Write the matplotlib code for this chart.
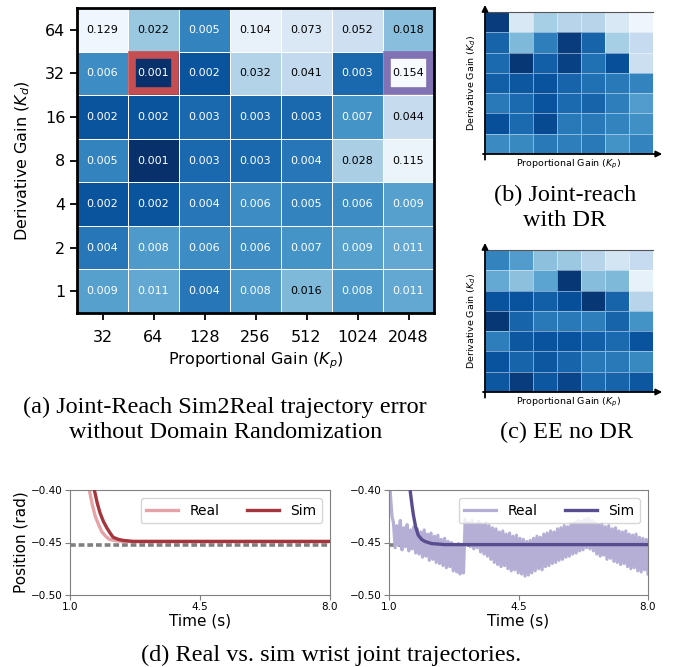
import numpy as np
import matplotlib
matplotlib.use("Agg")
import matplotlib.pyplot as plt
from matplotlib.colors import LogNorm
from matplotlib.patches import Rectangle

# (a) joint-reach sim2real error, rows Kd (top -> bottom), cols Kp
kp_labels = ["32", "64", "128", "256", "512", "1024", "2048"]
kd_labels = ["64", "32", "16", "8", "4", "2", "1"]
err = np.array([
    [0.129, 0.022, 0.005, 0.104, 0.073, 0.052, 0.018],
    [0.006, 0.001, 0.002, 0.032, 0.041, 0.003, 0.154],
    [0.002, 0.002, 0.003, 0.003, 0.003, 0.007, 0.044],
    [0.005, 0.001, 0.003, 0.003, 0.004, 0.028, 0.115],
    [0.002, 0.002, 0.004, 0.006, 0.005, 0.006, 0.009],
    [0.004, 0.008, 0.006, 0.006, 0.007, 0.009, 0.011],
    [0.009, 0.011, 0.004, 0.008, 0.016, 0.008, 0.011],
])

# (b) and (c): colour intensity only (no numbers printed)
dr_grid = np.array([
    [0.95, 0.15, 0.35, 0.30, 0.30, 0.15, 0.05],
    [0.80, 0.45, 0.70, 0.95, 0.80, 0.35, 0.25],
    [0.78, 0.97, 0.82, 0.93, 0.75, 0.88, 0.22],
    [0.82, 0.85, 0.87, 0.80, 0.75, 0.72, 0.68],
    [0.72, 0.78, 0.87, 0.78, 0.80, 0.70, 0.58],
    [0.88, 0.78, 0.90, 0.72, 0.72, 0.68, 0.63],
    [0.65, 0.66, 0.72, 0.70, 0.72, 0.62, 0.68],
])
ee_grid = np.array([
    [0.68, 0.58, 0.42, 0.38, 0.30, 0.18, 0.25],
    [0.52, 0.42, 0.55, 0.97, 0.43, 0.45, 0.08],
    [0.87, 0.87, 0.82, 0.88, 0.97, 0.80, 0.30],
    [0.97, 0.80, 0.72, 0.72, 0.70, 0.80, 0.62],
    [0.70, 0.85, 0.87, 0.87, 0.82, 0.78, 0.87],
    [0.87, 0.80, 0.85, 0.80, 0.72, 0.72, 0.66],
    [0.85, 0.95, 0.85, 0.92, 0.78, 0.80, 0.85],
])

# (d) wrist joint trajectories
target_pos = -0.4525
t_real_l = [1.42, 1.52, 1.60, 1.68, 1.77, 1.86, 1.96, 2.06, 2.20, 2.40, 8.0]
y_real_l = [-0.37, -0.40, -0.414, -0.425, -0.433, -0.440, -0.444, -0.447, -0.448, -0.449, -0.449]
t_sim_l = [1.55, 1.655, 1.73, 1.81, 1.90, 1.99, 2.08, 2.16, 2.30, 2.43, 2.70, 8.0]
y_sim_l = [-0.37, -0.40, -0.412, -0.422, -0.430, -0.436, -0.441, -0.445, -0.447, -0.448, -0.449, -0.449]

t_sim_r = [1.50, 1.57, 1.62, 1.66, 1.72, 1.79, 1.88, 1.97, 2.15, 2.50, 8.0]
y_sim_r = [-0.37, -0.40, -0.414, -0.424, -0.435, -0.443, -0.447, -0.449, -0.451, -0.452, -0.452]

real_r_start_t = [0.95, 1.03, 1.08]
real_r_start_y = [-0.37, -0.40, -0.425]
real_r_hi = [-0.431, -0.434, -0.429, -0.436, -0.433, -0.438, -0.435,
             -0.437, -0.440, -0.438, -0.442, -0.441, -0.444, -0.443, -0.447, -0.446, -0.449, -0.450, -0.452, -0.451, -0.455,
             -0.428, -0.431, -0.429, -0.432, -0.430, -0.433, -0.431, -0.434, -0.436,
             -0.437, -0.440, -0.439, -0.442, -0.441, -0.444, -0.443, -0.446, -0.447, -0.449, -0.448,
             -0.446, -0.444, -0.445, -0.442, -0.441, -0.439, -0.440, -0.437, -0.436, -0.434, -0.435, -0.432, -0.431, -0.429, -0.430, -0.428, -0.427, -0.429,
             -0.431, -0.433, -0.432, -0.435, -0.434, -0.437, -0.436, -0.439, -0.440, -0.439, -0.442, -0.443, -0.442, -0.445, -0.446, -0.447]
real_r_lo = [-0.455, -0.452, -0.457, -0.454, -0.458, -0.456, -0.460,
             -0.461, -0.464, -0.463, -0.467, -0.466, -0.469, -0.470, -0.472, -0.474, -0.473, -0.477, -0.478, -0.480, -0.479,
             -0.451, -0.454, -0.456, -0.455, -0.459, -0.461, -0.463, -0.466, -0.469,
             -0.471, -0.473, -0.472, -0.475, -0.477, -0.476, -0.479, -0.480, -0.482, -0.481, -0.479,
             -0.477, -0.475, -0.476, -0.473, -0.472, -0.470, -0.469, -0.467, -0.466, -0.464, -0.463, -0.461, -0.460, -0.458, -0.457, -0.455, -0.456, -0.458,
             -0.461, -0.463, -0.462, -0.466, -0.465, -0.468, -0.469, -0.471, -0.470, -0.473, -0.475, -0.474, -0.477, -0.478, -0.476, -0.480]

W, H = 678, 667
fig = plt.figure(figsize=(W / 100, H / 100), dpi=100)
serif = "Liberation Serif"


def fx(px):
    return px / W


def fy(py):
    return 1 - py / H


# ---- (a) main heatmap ----
ax = fig.add_axes([fx(77), fy(313), fx(357), 305 / H])
norm = LogNorm(vmin=0.001, vmax=0.154)
ax.pcolormesh(err, cmap="Blues_r", norm=norm, edgecolors="white", linewidth=0.6)
ax.set_xlim(0, 7)
ax.set_ylim(7, 0)
for i in range(7):
    for j in range(7):
        v = err[i, j]
        ax.text(j + 0.5, i + 0.5, f"{v:.3f}", ha="center", va="center", fontsize=8,
                color="black" if v >= 0.016 else "white")
ax.set_xticks(np.arange(7) + 0.5)
ax.set_xticklabels(kp_labels, fontsize=11.5)
ax.set_yticks(np.arange(7) + 0.5)
ax.set_yticklabels(kd_labels, fontsize=11.5)
ax.tick_params(length=5, width=1.3)
ax.tick_params(axis="x", pad=7)
ax.set_xlabel("Proportional Gain ($K_p$)", fontsize=11.5)
ax.set_ylabel("Derivative Gain ($K_d$)", fontsize=11.5, labelpad=9)
for s in ax.spines.values():
    s.set_linewidth(2)
ax.add_patch(Rectangle((1.07, 1.085), 0.86, 0.83, fill=False, ec="#c44e52", lw=5.5))
ax.add_patch(Rectangle((6.07, 1.085), 0.86, 0.83, fill=False, ec="#8172b3", lw=5.5))


def small_map(rect, grid):
    a = fig.add_axes(rect)
    a.pcolormesh(grid, cmap="Blues", vmin=0, vmax=1, edgecolors=(1, 1, 1, 0.45), linewidth=0.5)
    a.set_xlim(0, 7)
    a.set_ylim(7, 0)
    a.set_xticks([])
    a.set_yticks([])
    a.spines["left"].set_visible(False)
    a.spines["bottom"].set_visible(False)
    a.spines["right"].set_visible(False)
    a.spines["top"].set_color("#555555")
    arrow = dict(arrowstyle="-|>", color="black", lw=1.3, mutation_scale=9, shrinkA=0, shrinkB=0)
    a.annotate("", xy=(0, 1.05), xytext=(0, -0.04), xycoords="axes fraction", arrowprops=arrow)
    a.annotate("", xy=(1.055, 0), xytext=(-0.012, 0), xycoords="axes fraction", arrowprops=arrow)
    a.set_xlabel("Proportional Gain ($K_p$)", fontsize=6.8, labelpad=3)
    a.set_ylabel("Derivative Gain ($K_d$)", fontsize=6.8, labelpad=5)
    return a


small_map([fx(485), fy(154), fx(168), 142 / H], dr_grid)
small_map([fx(485), fy(392), fx(168), 142 / H], ee_grid)

# ---- (d) trajectories ----
def traj_axes(rect, show_ylabel):
    a = fig.add_axes(rect)
    a.set_xlim(1.0, 8.0)
    a.set_ylim(-0.50, -0.40)
    a.set_xticks([1.0, 4.5, 8.0])
    a.set_yticks([-0.50, -0.45, -0.40])
    a.set_xticklabels(["1.0", "4.5", "8.0"])
    a.set_yticklabels(["\u22120.50", "\u22120.45", "\u22120.40"])
    a.tick_params(labelsize=7.5, color="#808080", length=3.5, pad=1.5)
    for s in a.spines.values():
        s.set_color("#808080")
    a.set_xlabel("Time (s)", fontsize=11, labelpad=1)
    if show_ylabel:
        a.set_ylabel("Position (rad)", fontsize=11, labelpad=2)
    a.axhline(target_pos, color="#808080", lw=2.6, ls=(0, (1.6, 0.8)), zorder=1)
    return a


axl = traj_axes([fx(70), fy(595), fx(260), 105 / H], True)
axl.plot(t_real_l, y_real_l, color="#e6a3a7", lw=2.4, label="Real", zorder=2)
axl.plot(t_sim_l, y_sim_l, color="#a5353c", lw=2.4, label="Sim", zorder=3)
axl.legend(loc="upper right", ncol=2, fontsize=10, handlelength=2.3, borderaxespad=0.6)

axr = traj_axes([fx(389), fy(595), fx(259), 105 / H], False)
t_real_r = np.concatenate([real_r_start_t, np.linspace(1.12, 8.0, 2 * len(real_r_hi))])
y_real_r = np.concatenate([real_r_start_y, np.column_stack((real_r_hi, real_r_lo)).ravel()])
axr.plot(t_real_r, y_real_r, color="#b5aed5", lw=2.3, label="Real", zorder=2)
axr.plot(t_sim_r, y_sim_r, color="#5a4d8f", lw=2.4, label="Sim", zorder=3)
axr.legend(loc="upper right", ncol=2, fontsize=10, handlelength=2.3, borderaxespad=0.6)

# ---- captions ----
cap = dict(family=serif, fontsize=17.5, ha="center", va="center")
fig.text(fx(225), fy(407), "(a) Joint-Reach Sim2Real trajectory error", **cap)
fig.text(fx(226), fy(432), "without Domain Randomization", **cap)
fig.text(fx(565), fy(195), "(b) Joint-reach", **cap)
fig.text(fx(565), fy(220), "with DR", **cap)
fig.text(fx(566), fy(432), "(c) EE no DR", **cap)
fig.text(fx(331), fy(655), "(d) Real vs. sim wrist joint trajectories.", **cap)

fig.savefig("out.png", dpi=100)
